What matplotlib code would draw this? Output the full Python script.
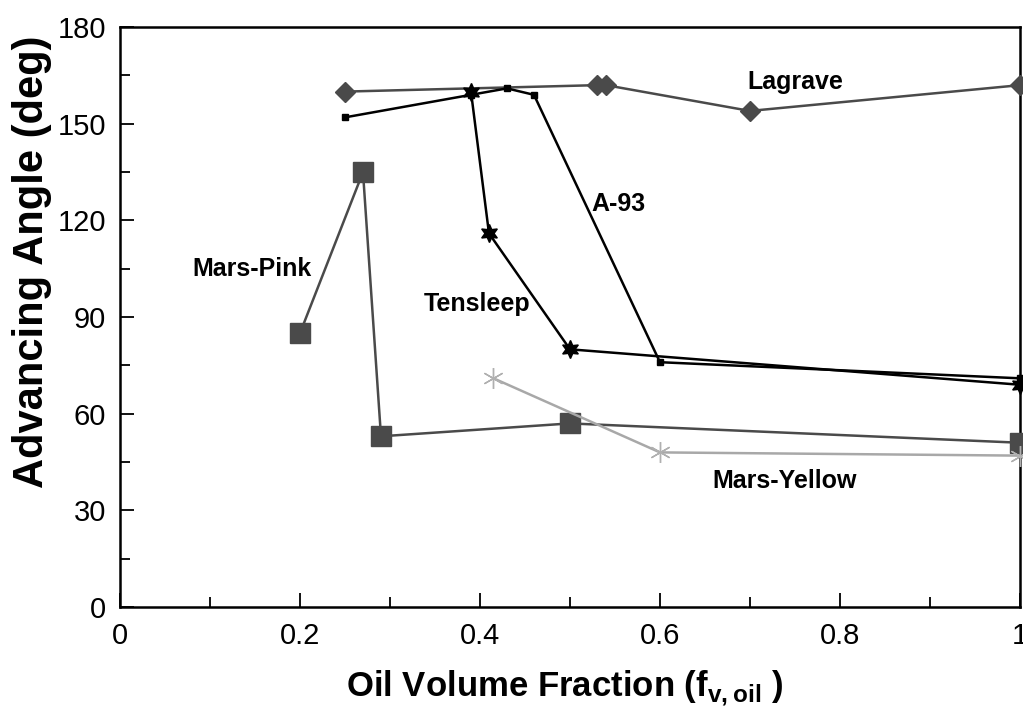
import matplotlib.pyplot as plt
from matplotlib.ticker import MultipleLocator, FixedLocator

plt.rcParams['font.family'] = ['Liberation Sans', 'DejaVu Sans']
plt.rcParams['mathtext.fontset'] = 'custom'
plt.rcParams['mathtext.rm'] = 'Liberation Sans'
plt.rcParams['mathtext.bf'] = 'Liberation Sans:bold'

# advancing angle vs oil volume fraction for each oil
lagrave_x = [0.25, 0.53, 0.54, 0.70, 1.0]
lagrave_y = [160, 162, 162, 154, 162]

a93_x = [0.25, 0.39, 0.43, 0.46, 0.60, 1.0]
a93_y = [152, 159, 161, 159, 76, 71]

tensleep_x = [0.39, 0.41, 0.50, 1.0]
tensleep_y = [160, 116, 80, 69]

pink_x = [0.20, 0.27, 0.29, 0.50, 1.0]
pink_y = [85, 135, 53, 57, 51]

yellow_x = [0.415, 0.60, 1.0]
yellow_y = [71, 48, 47]

xticks = [0, 0.2, 0.4, 0.6, 0.8, 1]
xtick_labels = ['0', '0.2', '0.4', '0.6', '0.8', '1']

fig = plt.figure(figsize=(10.23, 7.15), dpi=100)
ax = fig.add_axes([0.1173, 0.151, 0.8797, 0.811])

ax.plot(pink_x, pink_y, color='#4a4a4a', lw=1.8, marker='s', ms=14,
        mfc='#4a4a4a', mec='#4a4a4a', clip_on=False, zorder=3)
ax.plot(yellow_x, yellow_y, color='#a8a8a8', lw=1.8, marker=(6, 2, 0), ms=15,
        mec='#b0b0b0', mew=1.0, clip_on=False, zorder=3)
ax.plot(lagrave_x, lagrave_y, color='#4a4a4a', lw=1.8, marker='D', ms=10,
        mfc='#4a4a4a', mec='#4a4a4a', clip_on=False, zorder=3)
ax.plot(a93_x, a93_y, color='black', lw=1.8, marker='s', ms=4,
        clip_on=False, zorder=4)
ax.plot(tensleep_x, tensleep_y, color='black', lw=1.8, marker=(6, 1, 0), ms=13,
        mfc='black', mec='black', clip_on=False, zorder=4)

lbl = dict(fontsize=18, fontweight='bold', ha='center', va='center')
ax.text(0.750, 163, 'Lagrave', **lbl)
ax.text(0.554, 125, 'A-93', **lbl)
ax.text(0.397, 94, 'Tensleep', **lbl)
ax.text(0.147, 105, 'Mars-Pink', **lbl)
ax.text(0.739, 39, 'Mars-Yellow', **lbl)

ax.set_xlim(0, 1)
ax.set_ylim(0, 180)
ax.xaxis.set_major_locator(FixedLocator(xticks))
ax.set_xticklabels(xtick_labels)
ax.xaxis.set_minor_locator(MultipleLocator(0.1))
ax.yaxis.set_major_locator(MultipleLocator(30))
ax.yaxis.set_minor_locator(MultipleLocator(15))
ax.tick_params(which='both', direction='in', labelsize=21, width=1.3,
               top=False, right=False)
ax.tick_params(which='major', length=10)
ax.tick_params(which='minor', length=7)
ax.tick_params(axis='x', which='major', pad=11)
ax.tick_params(axis='y', which='major', pad=10)
for s in ax.spines.values():
    s.set_linewidth(1.8)

ax.set_xlabel(r'Oil Volume Fraction (f$_{\mathbf{v,oil}}$ )', fontsize=25,
              fontweight='bold')
ax.set_ylabel('Advancing Angle (deg)', fontsize=30, fontweight='bold')
ax.xaxis.set_label_coords(0.494, -0.105)
ax.yaxis.set_label_coords(-0.098, 0.595)
ax.yaxis.label.set_va('center')

fig.savefig('out.png', dpi=100)
